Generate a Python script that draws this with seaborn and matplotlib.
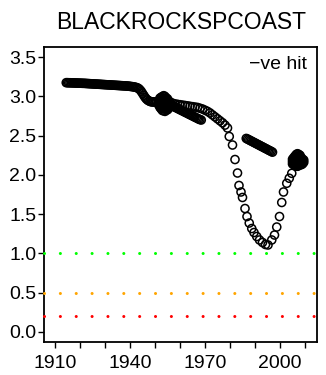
import numpy as np
import pandas as pd
import matplotlib
matplotlib.use("Agg")
import matplotlib.pyplot as plt
import seaborn as sns

# ---------------- data ----------------
title = "BLACKROCKSPCOAST"
legend_text = "\u2212ve hit"

# early dense series (half-year spacing)
early_years = np.arange(1914.5, 1943.01, 0.5)
early_vals = [3.176, 3.176, 3.175, 3.175, 3.174, 3.174, 3.173, 3.172, 3.172, 3.171,
              3.170, 3.170, 3.169, 3.168, 3.168, 3.167, 3.166, 3.165, 3.164, 3.163,
              3.162, 3.161, 3.160, 3.159, 3.158, 3.157, 3.156, 3.155, 3.154, 3.153,
              3.152, 3.151, 3.150, 3.149, 3.148, 3.147, 3.146, 3.145, 3.144, 3.143,
              3.142, 3.141, 3.140, 3.139, 3.138, 3.137, 3.136, 3.135, 3.134, 3.133,
              3.131, 3.129, 3.127, 3.125, 3.122, 3.119, 3.115, 3.110]

dip_years = [1943.5, 1944, 1944.5, 1945, 1945.5, 1946, 1946.5, 1947, 1947.5, 1948,
             1948.5, 1949, 1949.5, 1950, 1950.5]
dip_vals = [3.100, 3.085, 3.065, 3.040, 3.015, 2.990, 2.970, 2.955, 2.945, 2.937,
            2.932, 2.930, 2.930, 2.930, 2.930]

# cluster around 1951-1956
blob1_years = [1951.5, 1951.5, 1951.5,
               1952, 1952, 1952, 1952, 1952,
               1952.5, 1952.5, 1952.5, 1952.5, 1952.5, 1952.5,
               1953, 1953, 1953, 1953, 1953, 1953, 1953,
               1953.5, 1953.5, 1953.5, 1953.5, 1953.5, 1953.5, 1953.5,
               1954, 1954, 1954, 1954, 1954, 1954, 1954,
               1954.5, 1954.5, 1954.5, 1954.5, 1954.5, 1954.5,
               1955, 1955, 1955, 1955, 1955, 1955,
               1955.5, 1955.5, 1955.5, 1955.5,
               1956, 1956, 1956]
blob1_vals = [2.89, 2.92, 2.95,
              2.86, 2.89, 2.92, 2.95, 2.98,
              2.84, 2.87, 2.90, 2.93, 2.96, 2.99,
              2.82, 2.85, 2.88, 2.91, 2.94, 2.97, 3.00,
              2.82, 2.85, 2.88, 2.91, 2.94, 2.97, 3.01,
              2.81, 2.84, 2.87, 2.90, 2.93, 2.96, 3.00,
              2.83, 2.86, 2.89, 2.92, 2.95, 2.98,
              2.83, 2.86, 2.89, 2.92, 2.95, 2.97,
              2.85, 2.88, 2.91, 2.94,
              2.87, 2.90, 2.93]

lower_years = np.arange(1956.5, 1968.51, 0.5)
lower_vals = [2.885, 2.880, 2.872, 2.864, 2.856, 2.848, 2.840, 2.832, 2.824, 2.816,
              2.808, 2.800, 2.792, 2.784, 2.776, 2.768, 2.760, 2.752, 2.744, 2.736,
              2.728, 2.720, 2.712, 2.705, 2.700]

upper_years = np.arange(1957, 1978.1, 1.0)
upper_vals = [2.915, 2.905, 2.900, 2.895, 2.890, 2.885, 2.880, 2.875, 2.870, 2.865,
              2.860, 2.850, 2.840, 2.825, 2.810, 2.790, 2.765, 2.740, 2.715, 2.690,
              2.665, 2.635]

vee_years = [1979.0, 1979.7, 1981.0, 1982.0, 1983.0, 1983.6, 1984.4, 1985.0, 1986.0,
             1986.8, 1987.7, 1988.7, 1989.6, 1990.7, 1991.8, 1993.0, 1994.2, 1995.2,
             1996.7, 1997.8, 1998.7, 1999.8, 2000.7, 2001.4, 2002.7, 2003.7, 2004.7]
vee_vals = [2.598, 2.490, 2.381, 2.196, 2.024, 1.865, 1.782, 1.712, 1.571,
            1.469, 1.386, 1.316, 1.265, 1.214, 1.170, 1.138, 1.112, 1.106,
            1.170, 1.233, 1.335, 1.469, 1.648, 1.782, 1.893, 1.957, 2.020]

segb_years = np.arange(1986.5, 1997.01, 0.5)
segb_vals = [2.465, 2.457, 2.449, 2.440, 2.432, 2.424, 2.415, 2.407, 2.399, 2.390,
             2.382, 2.374, 2.365, 2.357, 2.349, 2.340, 2.332, 2.324, 2.315, 2.307,
             2.299, 2.290]

# cluster around 2005-2009
blob2_years = [2005, 2005, 2005,
               2005.5, 2005.5, 2005.5, 2005.5,
               2006, 2006, 2006, 2006, 2006,
               2006.5, 2006.5, 2006.5, 2006.5, 2006.5, 2006.5,
               2007, 2007, 2007, 2007, 2007, 2007,
               2007.5, 2007.5, 2007.5, 2007.5, 2007.5, 2007.5,
               2008, 2008, 2008, 2008, 2008,
               2008.5, 2008.5, 2008.5, 2008.5,
               2009, 2009, 2009,
               2009.5, 2009.5]
blob2_vals = [2.14, 2.17, 2.20,
              2.13, 2.16, 2.19, 2.22,
              2.12, 2.15, 2.18, 2.21, 2.24,
              2.11, 2.14, 2.17, 2.20, 2.23, 2.26,
              2.11, 2.14, 2.17, 2.20, 2.23, 2.27,
              2.12, 2.15, 2.18, 2.21, 2.24, 2.26,
              2.13, 2.16, 2.19, 2.22, 2.25,
              2.13, 2.16, 2.19, 2.22,
              2.14, 2.17, 2.20,
              2.16, 2.19]

thresholds = [1.0, 0.5, 0.2]
threshold_colors = ["#00FF00", "#FFA500", "#FF0000"]

y_ticks = [0.0, 0.5, 1.0, 1.5, 2.0, 2.5, 3.0, 3.5]
x_label_ticks = [1910, 1940, 1970, 2000]
x_minor_ticks = [1920, 1930, 1950, 1960, 1980, 1990, 2010]

# ---------------- build table ----------------
years = np.concatenate([early_years, dip_years, blob1_years, lower_years, upper_years,
                        vee_years, segb_years, blob2_years])
vals = np.concatenate([early_vals, dip_vals, blob1_vals, lower_vals, upper_vals,
                       vee_vals, segb_vals, blob2_vals])
df = pd.DataFrame({"year": years, "value": vals})

# ---------------- plot ----------------
sns.set_style("ticks")
plt.rcParams["font.family"] = ["Liberation Sans", "DejaVu Sans"]
plt.rcParams["text.color"] = "black"

fig = plt.figure(figsize=(3.26, 3.75), dpi=100)
ax = fig.add_axes([0.1365, 0.0872, 0.9724 - 0.1365, 0.8755 - 0.0872])

for t, c in zip(thresholds, threshold_colors):
    ax.axhline(t, color=c, lw=2.2, linestyle=(0, (0.01, 5.18)),
               dash_capstyle="round", zorder=2.6, clip_on=False)

sns.scatterplot(data=df, x="year", y="value", ax=ax, marker="o", s=34,
                facecolors="none", edgecolor="black", linewidth=1.1, zorder=3,
                legend=False)

ax.set_xlim(1905.8, 2014.8)
ax.set_ylim(-0.135, 3.635)
ax.set_yticks(y_ticks)
ax.set_yticklabels([f"{v:.1f}" for v in y_ticks])
ax.set_xticks(x_label_ticks)
ax.set_xticklabels([str(v) for v in x_label_ticks])
ax.set_xticks(x_minor_ticks, minor=True)
ax.tick_params(axis="both", which="both", direction="out", length=4.2, width=1.0,
               color="black", labelsize=14, labelcolor="black")
ax.tick_params(axis="y", pad=1.5)
ax.tick_params(axis="x", pad=5)
ax.set_xlabel("")
ax.set_ylabel("")
for sp in ax.spines.values():
    sp.set_visible(True)
    sp.set_linewidth(1.3)
    sp.set_color("black")

ax.set_title(title, fontsize=16.5, pad=13, color="black")
ax.text(0.965, 0.94, legend_text, transform=ax.transAxes, ha="right", va="center",
        fontsize=14, color="black")

fig.savefig("out.png", dpi=100)
